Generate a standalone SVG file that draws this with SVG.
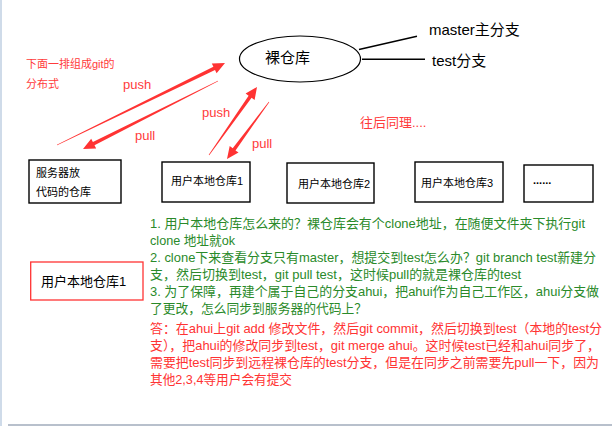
<svg xmlns="http://www.w3.org/2000/svg" width="612" height="426" viewBox="0 0 612 426">
<style>
text{font-family:"Liberation Sans","Noto Sans CJK SC",sans-serif}
.box{fill:#fff;stroke:#000;stroke-width:1.4}
.bt{font-size:11px;fill:#000}
.red{fill:#ff3b3b}
.lbl{font-size:13px;fill:#ff3b3b}
.green{font-size:13px;fill:#2a8a2a}
.ans{font-size:13px;fill:#ff3333}
.arrow{fill:#ff3333}
.ln{stroke:#000;stroke-width:1.4;fill:none}
</style>
<rect x="0" y="0" width="612" height="426" fill="#fff"/>
<rect x="0" y="0" width="2" height="426" fill="#cfdbe9"/>
<rect x="8" y="424" width="604" height="2" fill="#b8c0cc"/>

<g id="bare-repo">
<ellipse cx="300" cy="59" rx="60.5" ry="23" fill="#fff" stroke="#000" stroke-width="1.2"/>
<text x="265" y="63" style="font-size:15px" fill="#000">裸仓库</text>
</g>
<g id="master-label">
<text x="429" y="35" style="font-size:15px" fill="#000">master主分支</text>
</g>
<g id="test-label">
<text x="432" y="66" style="font-size:15px" fill="#000">test分支</text>
</g>

<g id="note-left">
<text x="26" y="68" style="font-size:11px" class="red">下面一排组成git的</text>
<text x="26" y="88" style="font-size:11px" class="red">分布式</text>
</g>
<g id="note-right">
<text x="360" y="127" class="lbl">往后同理....</text>
</g>

<g id="connectors">
<line class="ln" x1="359" y1="49.5" x2="417" y2="36.3"/>
<line class="ln" x1="362" y1="59.3" x2="425" y2="59.3"/>
<polygon class="arrow" points="57.13,145.27 215,69.9 216.6,73.2 225,63 211.8,63.4 213.4,66.7 56.87,144.73"/>
<polygon class="arrow" points="217.87,80.73 92.9,142 91.2,138.7 83,149 96.2,148.5 94.5,145.2 218.13,81.27"/>
<polygon class="arrow" points="209.25,155.17 251.6,97.8 254.6,100 257,87 245.6,93.6 248.6,95.8 208.75,154.83"/>
<polygon class="arrow" points="268.76,101.82 232.7,148.3 229.7,146 227,159 238.5,152.6 235.5,150.4 269.24,102.18"/>
<text x="123" y="89" class="lbl">push</text>
<text x="135" y="140" class="lbl">pull</text>
<text x="202" y="117" class="lbl">push</text>
<text x="252" y="148" class="lbl">pull</text>
</g>

<g id="server-repo">
<rect class="box" x="29" y="160" width="92" height="43"/>
<text x="36" y="177" class="bt">服务器放</text>
<text x="36" y="196" class="bt">代码的仓库</text>
</g>
<g id="local-repo-1">
<rect class="box" x="162" y="162" width="88" height="40"/>
<text x="171" y="185" class="bt">用户本地仓库1</text>
</g>
<g id="local-repo-2">
<rect class="box" x="287" y="163" width="87" height="40"/>
<text x="298" y="188" class="bt">用户本地仓库2</text>
</g>
<g id="local-repo-3">
<rect class="box" x="415" y="162" width="88" height="40"/>
<text x="421" y="187" class="bt">用户本地仓库3</text>
</g>
<g id="more-repos">
<rect class="box" x="524" y="165" width="69" height="37"/>
<text x="533" y="184" class="bt" style="font-weight:bold">......</text>
</g>
<g id="local-repo-1-detail">
<rect x="30.7" y="262" width="112.3" height="38" fill="#fff" stroke="#ff3333" stroke-width="1.3"/>
<text x="41" y="286" style="font-size:13px" fill="#000">用户本地仓库1</text>
</g>

<g id="notes">
<text x="150" y="228" class="green" textLength="435" lengthAdjust="spacingAndGlyphs">1. 用户本地仓库怎么来的？裸仓库会有个clone地址，在随便文件夹下执行git</text>
<text x="150" y="245" class="green" textLength="85" lengthAdjust="spacingAndGlyphs">clone 地址就ok</text>
<text x="150" y="262" class="green" textLength="446" lengthAdjust="spacingAndGlyphs">2. clone下来查看分支只有master，想提交到test怎么办？git branch test新建分</text>
<text x="150" y="279" class="green" textLength="371" lengthAdjust="spacingAndGlyphs">支，然后切换到test，git pull test，这时候pull的就是裸仓库的test</text>
<text x="150" y="296" class="green" textLength="449" lengthAdjust="spacingAndGlyphs">3. 为了保障，再建个属于自己的分支ahui，把ahui作为自己工作区，ahui分支做</text>
<text x="150" y="313" class="green" textLength="217" lengthAdjust="spacingAndGlyphs">了更改，怎么同步到服务器的代码上？</text>
<text x="150" y="333" class="ans" textLength="452" lengthAdjust="spacingAndGlyphs">答：在ahui上git add 修改文件，然后git commit，然后切换到test（本地的test分</text>
<text x="150" y="350" class="ans" textLength="450" lengthAdjust="spacingAndGlyphs">支），把ahui的修改同步到test，git merge ahui。这时候test已经和ahui同步了，</text>
<text x="150" y="367" class="ans" textLength="449" lengthAdjust="spacingAndGlyphs">需要把test同步到远程裸仓库的test分支，但是在同步之前需要先pull一下，因为</text>
<text x="150" y="384" class="ans" textLength="142" lengthAdjust="spacingAndGlyphs">其他2,3,4等用户会有提交</text>
</g>
</svg>
